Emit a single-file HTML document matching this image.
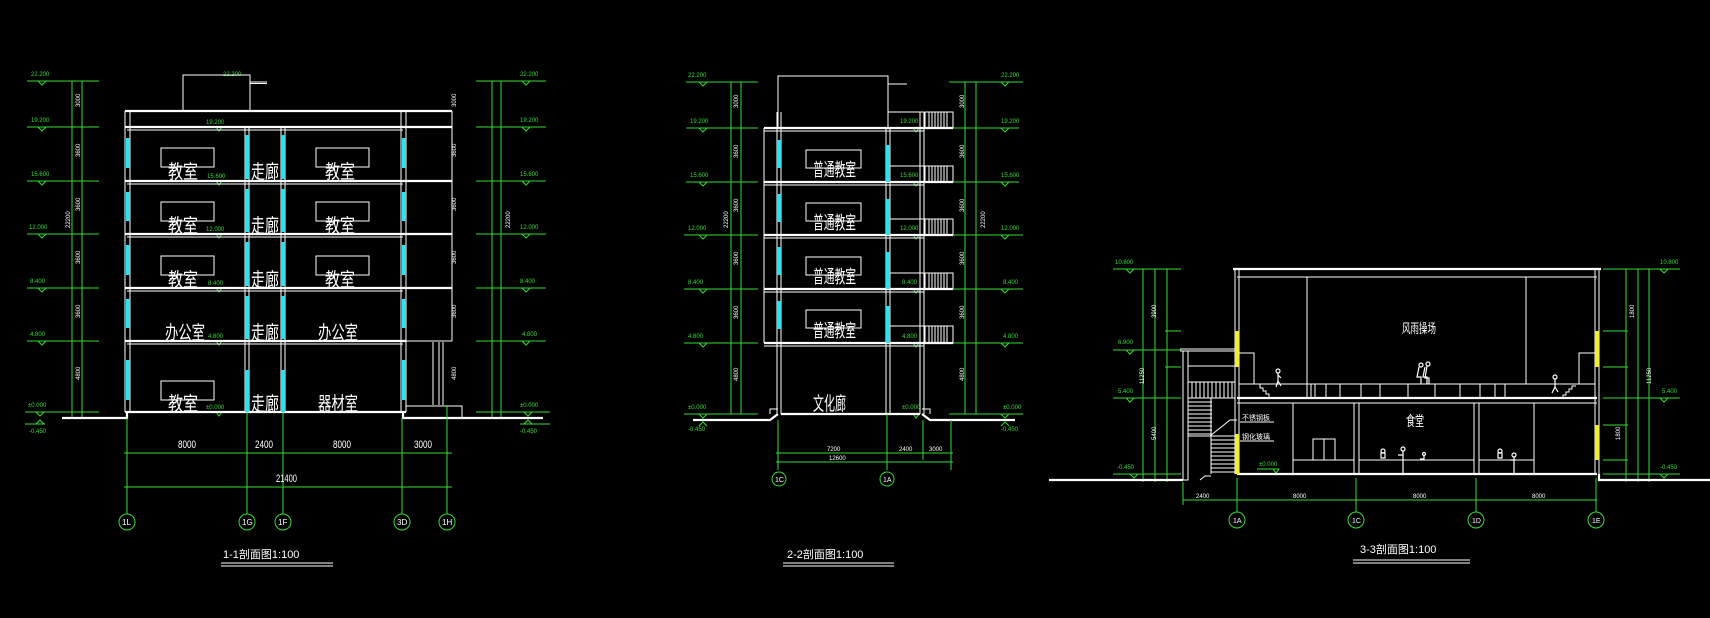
<!DOCTYPE html>
<html><head><meta charset="utf-8"><style>
html,body{margin:0;padding:0;background:#000;}
svg{display:block}
.w{stroke:#fff;fill:none;stroke-width:1}
.w2{stroke:#fff;fill:none;stroke-width:2.2}
.g{stroke:#33dd33;fill:none;stroke-width:1}
.c{fill:#2fe0f0}
.y{fill:#f0f030}
.t{fill:#fff;font-family:"Liberation Sans","Noto Sans CJK SC",sans-serif;}
.gt{fill:#33dd33;font-family:"Liberation Sans",sans-serif;font-size:6px}
.wt{fill:#fff;font-family:"Liberation Sans",sans-serif;font-size:6px}
</style></head><body>
<svg width="1710" height="618" viewBox="0 0 1710 618" xmlns="http://www.w3.org/2000/svg">
<rect width="1710" height="618" fill="#000"/>

<!-- ================= SECTION 1-1 ================= -->
<g class="g">
<line x1="72" y1="81" x2="72" y2="418"/><line x1="82" y1="81" x2="82" y2="418"/>
<line x1="27" y1="81" x2="99" y2="81"/><line x1="27" y1="127" x2="99" y2="127"/>
<line x1="27" y1="181" x2="99" y2="181"/><line x1="27" y1="234" x2="99" y2="234"/>
<line x1="27" y1="288" x2="99" y2="288"/><line x1="27" y1="341" x2="99" y2="341"/>
<line x1="25" y1="412" x2="99" y2="412"/><line x1="25" y1="424" x2="45" y2="424"/>
<path d="M38 81 l4 4 l4 -4 M38 127 l4 4 l4 -4 M38 181 l4 4 l4 -4 M38 234 l4 4 l4 -4 M38 288 l4 4 l4 -4 M38 341 l4 4 l4 -4 M36 412 l4 4 l4 -4 M36 424 l4 -4 l4 4"/>
<line x1="476" y1="81" x2="546" y2="81"/><line x1="476" y1="127" x2="546" y2="127"/>
<line x1="476" y1="181" x2="546" y2="181"/><line x1="476" y1="234" x2="546" y2="234"/>
<line x1="476" y1="288" x2="546" y2="288"/><line x1="476" y1="341" x2="546" y2="341"/>
<line x1="476" y1="412" x2="550" y2="412"/><line x1="520" y1="424" x2="550" y2="424"/>
<line x1="492" y1="81" x2="492" y2="418"/><line x1="501" y1="81" x2="501" y2="418"/>
<path d="M522 81 l4 4 l4 -4 M522 127 l4 4 l4 -4 M522 181 l4 4 l4 -4 M522 234 l4 4 l4 -4 M522 288 l4 4 l4 -4 M522 341 l4 4 l4 -4 M524 412 l4 4 l4 -4 M524 424 l4 -4 l4 4"/>
<path d="M204 127 h18 l-3 4 l-3 -4 M204 181 h18 l-3 4 l-3 -4 M204 234 h18 l-3 4 l-3 -4 M204 288 h18 l-3 4 l-3 -4 M204 341 h18 l-3 4 l-3 -4 M204 412 h18 l-3 4 l-3 -4"/>
</g>
<g class="gt">
<text x="31" y="76">22.200</text><text x="31" y="122">19.200</text><text x="31" y="176">15.600</text><text x="29" y="229">12.000</text><text x="30" y="283">8.400</text><text x="30" y="336">4.800</text><text x="28" y="407">±0.000</text><text x="29" y="433">-0.450</text>
<text x="520" y="76">22.200</text><text x="520" y="122">19.200</text><text x="520" y="176">15.600</text><text x="520" y="229">12.000</text><text x="520" y="283">8.400</text><text x="522" y="336">4.800</text><text x="520" y="407">±0.000</text><text x="520" y="433">-0.450</text>
<text x="223" y="76">22.200</text><text x="206" y="124">19.200</text><text x="207" y="178">15.600</text><text x="206" y="231">12.000</text><text x="208" y="285">8.400</text><text x="208" y="338">4.800</text><text x="206" y="409">±0.000</text>
</g>
<g class="wt">
<text x="74" y="107" transform="rotate(-90 77 104)">3000</text>
<text x="74" y="157" transform="rotate(-90 77 154)">3600</text>
<text x="74" y="211" transform="rotate(-90 77 208)">3600</text>
<text x="64" y="228" transform="rotate(-90 67 225)">22200</text>
<text x="74" y="264" transform="rotate(-90 77 261)">3600</text>
<text x="74" y="318" transform="rotate(-90 77 315)">3600</text>
<text x="74" y="380" transform="rotate(-90 77 377)">4800</text>
<text x="450" y="107" transform="rotate(-90 453 104)">3000</text>
<text x="450" y="157" transform="rotate(-90 453 154)">3600</text>
<text x="450" y="211" transform="rotate(-90 453 208)">3600</text>
<text x="504" y="228" transform="rotate(-90 507 225)">22200</text>
<text x="450" y="264" transform="rotate(-90 453 261)">3600</text>
<text x="450" y="318" transform="rotate(-90 453 315)">3600</text>
<text x="450" y="380" transform="rotate(-90 453 377)">4800</text>
</g>
<g class="w">
<rect x="183" y="75" width="67" height="36"/>
<line x1="250" y1="82" x2="267" y2="82"/><line x1="250" y1="83.5" x2="267" y2="83.5"/>
<line x1="125" y1="111" x2="125" y2="412"/><line x1="130" y1="111" x2="130" y2="412"/>
<line x1="401" y1="111" x2="401" y2="412"/><line x1="406" y1="111" x2="406" y2="412"/>
<line x1="452" y1="111" x2="452" y2="341"/>
<line x1="245" y1="127" x2="245" y2="412"/><line x1="249" y1="127" x2="249" y2="412"/>
<line x1="281" y1="127" x2="281" y2="412"/><line x1="285" y1="127" x2="285" y2="412"/>
<line x1="127" y1="130" x2="403" y2="130"/><line x1="127" y1="184" x2="403" y2="184"/><line x1="127" y1="237" x2="403" y2="237"/><line x1="127" y1="291" x2="403" y2="291"/><line x1="127" y1="344" x2="403" y2="344"/>
<line x1="406" y1="127" x2="452" y2="127"/><line x1="406" y1="181" x2="452" y2="181"/><line x1="406" y1="234" x2="452" y2="234"/><line x1="406" y1="288" x2="452" y2="288"/><line x1="406" y1="341" x2="452" y2="341"/>
<line x1="433" y1="342" x2="433" y2="405"/><line x1="439" y1="342" x2="439" y2="405"/><line x1="443" y1="342" x2="443" y2="405"/>
<polyline points="406,406 462,406 462,418"/>
<rect x="161" y="148" width="53" height="19"/><rect x="316" y="148" width="53" height="19"/>
<rect x="161" y="202" width="53" height="19"/><rect x="316" y="202" width="53" height="19"/>
<rect x="161" y="256" width="53" height="19"/><rect x="316" y="256" width="53" height="19"/>
<rect x="161" y="381" width="53" height="19"/>
</g>
<g class="w2">
<line x1="125" y1="111" x2="452" y2="111"/>
<line x1="125" y1="127" x2="452" y2="127"/><line x1="125" y1="181" x2="452" y2="181"/><line x1="125" y1="234" x2="452" y2="234"/><line x1="125" y1="288" x2="452" y2="288"/><line x1="125" y1="341" x2="406" y2="341"/>
<line x1="125" y1="412" x2="406" y2="412"/>
<polyline points="62,418 127,418 127,412"/><polyline points="403,412 403,418 543,418"/>
</g>
<g class="c">
<rect x="126" y="138" width="4" height="30"/><rect x="126" y="192" width="4" height="29"/><rect x="126" y="245" width="4" height="30"/><rect x="126" y="299" width="4" height="29"/><rect x="126" y="360" width="4" height="40"/>
<rect x="402" y="138" width="4" height="30"/><rect x="402" y="192" width="4" height="29"/><rect x="402" y="245" width="4" height="30"/><rect x="402" y="299" width="4" height="29"/><rect x="402" y="360" width="4" height="40"/>
<rect x="245" y="135" width="4" height="44"/><rect x="245" y="189" width="4" height="43"/><rect x="245" y="242" width="4" height="44"/><rect x="245" y="296" width="4" height="43"/><rect x="245" y="370" width="4" height="42"/>
<rect x="281" y="135" width="4" height="44"/><rect x="281" y="189" width="4" height="43"/><rect x="281" y="242" width="4" height="44"/><rect x="281" y="296" width="4" height="43"/><rect x="281" y="370" width="4" height="42"/>
</g>
<g class="t" font-size="19" lengthAdjust="spacingAndGlyphs">
<text x="168" y="178" textLength="30" lengthAdjust="spacingAndGlyphs">教室</text><text x="251" y="178" textLength="28" lengthAdjust="spacingAndGlyphs">走廊</text><text x="325" y="178" textLength="30" lengthAdjust="spacingAndGlyphs">教室</text>
<text x="168" y="232" textLength="30" lengthAdjust="spacingAndGlyphs">教室</text><text x="251" y="232" textLength="28" lengthAdjust="spacingAndGlyphs">走廊</text><text x="325" y="232" textLength="30" lengthAdjust="spacingAndGlyphs">教室</text>
<text x="168" y="286" textLength="30" lengthAdjust="spacingAndGlyphs">教室</text><text x="251" y="286" textLength="28" lengthAdjust="spacingAndGlyphs">走廊</text><text x="325" y="286" textLength="30" lengthAdjust="spacingAndGlyphs">教室</text>
<text x="165" y="339" textLength="40" lengthAdjust="spacingAndGlyphs">办公室</text><text x="251" y="339" textLength="28" lengthAdjust="spacingAndGlyphs">走廊</text><text x="318" y="339" textLength="40" lengthAdjust="spacingAndGlyphs">办公室</text>
<text x="168" y="410" textLength="30" lengthAdjust="spacingAndGlyphs">教室</text><text x="251" y="410" textLength="28" lengthAdjust="spacingAndGlyphs">走廊</text><text x="318" y="410" textLength="40" lengthAdjust="spacingAndGlyphs">器材室</text>
</g>
<g class="g">
<line x1="124" y1="453" x2="452" y2="453"/><line x1="124" y1="487" x2="452" y2="487"/>
<line x1="127" y1="418" x2="127" y2="514"/><line x1="247" y1="412" x2="247" y2="514"/><line x1="283" y1="412" x2="283" y2="514"/><line x1="402" y1="418" x2="402" y2="514"/><line x1="447" y1="406" x2="447" y2="514"/>
<circle cx="127" cy="522" r="8"/><circle cx="247" cy="522" r="8"/><circle cx="283" cy="522" r="8"/><circle cx="402" cy="522" r="8"/><circle cx="447" cy="522" r="8"/>
</g>
<g class="t" font-size="11">
<text x="178" y="448" textLength="18" lengthAdjust="spacingAndGlyphs">8000</text><text x="255" y="448" textLength="18" lengthAdjust="spacingAndGlyphs">2400</text><text x="333" y="448" textLength="18" lengthAdjust="spacingAndGlyphs">8000</text><text x="414" y="448" textLength="18" lengthAdjust="spacingAndGlyphs">3000</text>
<text x="276" y="482" textLength="21" lengthAdjust="spacingAndGlyphs">21400</text>
</g>
<g class="t" font-size="8"><text x="122" y="525">1L</text><text x="242" y="525">1G</text><text x="278" y="525">1F</text><text x="397" y="525">3D</text><text x="442" y="525">1H</text></g>
<text class="t" x="223" y="558" font-size="11">1-1剖面图1:100</text>
<line x1="221" y1="563" x2="333" y2="563" stroke="#fff"/><line x1="221" y1="566" x2="333" y2="566" stroke="#fff"/>

<!-- ================= SECTION 2-2 ================= -->
<g class="g">
<line x1="731" y1="82" x2="731" y2="414"/><line x1="741" y1="82" x2="741" y2="414"/>
<line x1="686" y1="82" x2="758" y2="82"/><line x1="686" y1="128" x2="758" y2="128"/><line x1="686" y1="182" x2="758" y2="182"/><line x1="684" y1="235" x2="758" y2="235"/><line x1="684" y1="289" x2="758" y2="289"/><line x1="684" y1="343" x2="758" y2="343"/><line x1="684" y1="414" x2="758" y2="414"/>
<path d="M699 82 l4 4 l4 -4 M699 128 l4 4 l4 -4 M699 182 l4 4 l4 -4 M699 235 l4 4 l4 -4 M699 289 l4 4 l4 -4 M699 343 l4 4 l4 -4 M699 414 l4 4 l4 -4 M699 426 l4 -4 l4 4"/>
<line x1="949" y1="82" x2="1023" y2="82"/><line x1="949" y1="128" x2="1019" y2="128"/><line x1="949" y1="182" x2="1019" y2="182"/><line x1="949" y1="235" x2="1023" y2="235"/><line x1="949" y1="289" x2="1023" y2="289"/><line x1="949" y1="343" x2="1023" y2="343"/><line x1="949" y1="414" x2="1023" y2="414"/>
<line x1="965" y1="82" x2="965" y2="414"/><line x1="976" y1="82" x2="976" y2="414"/>
<path d="M1001 82 l4 4 l4 -4 M1001 128 l4 4 l4 -4 M1001 182 l4 4 l4 -4 M1001 235 l4 4 l4 -4 M1001 289 l4 4 l4 -4 M1001 343 l4 4 l4 -4 M1001 414 l4 4 l4 -4 M1001 426 l4 -4 l4 4"/>
<path d="M899 128 h20 l-3 4 l-3 -4 M899 182 h20 l-3 4 l-3 -4 M899 235 h20 l-3 4 l-3 -4 M899 289 h20 l-3 4 l-3 -4 M899 343 h20 l-3 4 l-3 -4 M899 414 h20 l-3 4 l-3 -4"/>
</g>
<g class="gt">
<text x="688" y="77">22.200</text><text x="690" y="123">19.200</text><text x="690" y="177">15.600</text><text x="688" y="230">12.000</text><text x="688" y="284">8.400</text><text x="688" y="338">4.800</text><text x="688" y="409">±0.000</text><text x="688" y="431">-0.450</text>
<text x="1001" y="77">22.200</text><text x="1001" y="123">19.200</text><text x="1001" y="177">15.600</text><text x="1001" y="230">12.000</text><text x="1003" y="284">8.400</text><text x="1003" y="338">4.800</text><text x="1003" y="409">±0.000</text><text x="1001" y="431">-0.450</text>
<text x="900" y="123">19.200</text><text x="900" y="177">15.600</text><text x="900" y="230">12.000</text><text x="902" y="284">8.400</text><text x="902" y="338">4.800</text><text x="902" y="409">±0.000</text>
</g>
<g class="wt">
<text x="732" y="108" transform="rotate(-90 735 105)">3000</text><text x="732" y="158" transform="rotate(-90 735 155)">3600</text><text x="732" y="212" transform="rotate(-90 735 209)">3600</text><text x="722" y="228" transform="rotate(-90 725 225)">22200</text><text x="732" y="265" transform="rotate(-90 735 262)">3600</text><text x="732" y="319" transform="rotate(-90 735 316)">3600</text><text x="732" y="381" transform="rotate(-90 735 378)">4800</text>
<text x="958" y="108" transform="rotate(-90 961 105)">3000</text><text x="958" y="158" transform="rotate(-90 961 155)">3600</text><text x="958" y="212" transform="rotate(-90 961 209)">3600</text><text x="979" y="228" transform="rotate(-90 982 225)">22200</text><text x="958" y="265" transform="rotate(-90 961 262)">3600</text><text x="958" y="319" transform="rotate(-90 961 316)">3600</text><text x="958" y="381" transform="rotate(-90 961 378)">4800</text>
</g>
<g class="w">
<rect x="778" y="76" width="110" height="52"/>
<line x1="888" y1="84" x2="907" y2="84"/>
<line x1="764" y1="128" x2="764" y2="343"/>
<line x1="777" y1="112" x2="777" y2="414"/><line x1="781" y1="112" x2="781" y2="414"/>
<line x1="886" y1="128" x2="886" y2="414"/><line x1="890" y1="128" x2="890" y2="414"/>
<line x1="920" y1="112" x2="920" y2="414"/><line x1="924" y1="112" x2="924" y2="414"/>
<line x1="764" y1="131" x2="924" y2="131"/><line x1="764" y1="185" x2="924" y2="185"/><line x1="764" y1="238" x2="924" y2="238"/><line x1="764" y1="292" x2="924" y2="292"/><line x1="764" y1="346" x2="924" y2="346"/>
<line x1="888" y1="112" x2="924" y2="112"/><line x1="888" y1="166" x2="924" y2="166"/><line x1="888" y1="219" x2="924" y2="219"/><line x1="888" y1="273" x2="924" y2="273"/><line x1="888" y1="326" x2="924" y2="326"/>
<rect x="806" y="150" width="55" height="18"/><rect x="806" y="203" width="55" height="18"/><rect x="806" y="257" width="55" height="18"/><rect x="806" y="310" width="55" height="18"/>
<polyline points="770,414 770,409 778,409"/><polyline points="922,409 930,409 930,414"/>
</g>
<g class="w">
<rect x="925" y="112" width="28" height="16"/><rect x="925" y="166" width="28" height="16"/><rect x="925" y="219" width="28" height="16"/><rect x="925" y="273" width="28" height="16"/><rect x="925" y="326" width="28" height="17"/>
<path d="M929 112v16M932 112v16M935 112v16M938 112v16M941 112v16M944 112v16M947 112v16
M929 166v16M932 166v16M935 166v16M938 166v16M941 166v16M944 166v16M947 166v16
M929 219v16M932 219v16M935 219v16M938 219v16M941 219v16M944 219v16M947 219v16
M929 273v16M932 273v16M935 273v16M938 273v16M941 273v16M944 273v16M947 273v16
M929 326v17M932 326v17M935 326v17M938 326v17M941 326v17M944 326v17M947 326v17"/>
</g>
<g class="w2">
<line x1="764" y1="128" x2="953" y2="128"/><line x1="764" y1="182" x2="953" y2="182"/><line x1="764" y1="235" x2="953" y2="235"/><line x1="764" y1="289" x2="953" y2="289"/><line x1="764" y1="343" x2="953" y2="343"/>
<line x1="781" y1="414" x2="920" y2="414"/>
<polyline points="693,420 770,420 778,414"/><polyline points="922,414 930,420 1015,420"/>
</g>
<g class="c">
<rect x="777" y="140" width="4" height="28"/><rect x="777" y="194" width="4" height="28"/><rect x="777" y="247" width="4" height="28"/><rect x="777" y="301" width="4" height="28"/>
<rect x="886" y="145" width="4" height="37"/><rect x="886" y="199" width="4" height="36"/><rect x="886" y="252" width="4" height="37"/><rect x="886" y="306" width="4" height="37"/>
</g>
<g class="t" font-size="18">
<text x="813" y="176" textLength="43" lengthAdjust="spacingAndGlyphs">普通教室</text><text x="813" y="229" textLength="43" lengthAdjust="spacingAndGlyphs">普通教室</text><text x="813" y="283" textLength="43" lengthAdjust="spacingAndGlyphs">普通教室</text><text x="813" y="337" textLength="43" lengthAdjust="spacingAndGlyphs">普通教室</text>
<text x="813" y="410" font-size="19" textLength="33" lengthAdjust="spacingAndGlyphs">文化廊</text>
</g>
<g class="g">
<line x1="778" y1="420" x2="778" y2="470"/><line x1="887" y1="414" x2="887" y2="470"/><line x1="923" y1="420" x2="923" y2="460"/><line x1="951" y1="420" x2="951" y2="470"/>
<line x1="776" y1="453" x2="953" y2="453"/><line x1="776" y1="462" x2="953" y2="462"/>
<circle cx="779" cy="479" r="7"/><circle cx="887" cy="479" r="7"/>
</g>
<g class="wt"><text x="827" y="451">7200</text><text x="899" y="451">2400</text><text x="929" y="451">3000</text><text x="829" y="460">12600</text></g>
<g class="t" font-size="7"><text x="775" y="482">1C</text><text x="883" y="482">1A</text></g>
<text class="t" x="787" y="558" font-size="11">2-2剖面图1:100</text>
<line x1="783" y1="563" x2="894" y2="563" stroke="#fff"/><line x1="783" y1="566" x2="894" y2="566" stroke="#fff"/>

<!-- ================= SECTION 3-3 ================= -->
<g class="g">
<line x1="1113" y1="269" x2="1181" y2="269"/><line x1="1113" y1="350" x2="1181" y2="350"/><line x1="1113" y1="398" x2="1181" y2="398"/><line x1="1113" y1="474" x2="1181" y2="474"/>
<line x1="1165" y1="331" x2="1181" y2="331"/><line x1="1165" y1="367" x2="1181" y2="367"/>
<line x1="1143" y1="269" x2="1143" y2="482"/><line x1="1155" y1="269" x2="1155" y2="482"/><line x1="1167" y1="269" x2="1167" y2="482"/>
<path d="M1126 269 l4 4 l4 -4 M1126 350 l4 4 l4 -4 M1126 398 l4 4 l4 -4 M1130 474 l4 4 l4 -4"/>
<line x1="1603" y1="269" x2="1680" y2="269"/><line x1="1603" y1="398" x2="1680" y2="398"/><line x1="1603" y1="474" x2="1680" y2="474"/>
<line x1="1603" y1="331" x2="1628" y2="331"/><line x1="1603" y1="367" x2="1628" y2="367"/><line x1="1603" y1="425" x2="1628" y2="425"/><line x1="1603" y1="460" x2="1628" y2="460"/>
<line x1="1626" y1="269" x2="1626" y2="482"/><line x1="1638" y1="269" x2="1638" y2="482"/><line x1="1649" y1="269" x2="1649" y2="482"/>
<path d="M1660 269 l4 4 l4 -4 M1660 398 l4 4 l4 -4 M1660 474 l4 4 l4 -4"/>
<path d="M1257 469 h22 l-3 4 l-3 -4"/>
<line x1="1183" y1="500" x2="1597" y2="500"/>
<line x1="1183" y1="482" x2="1183" y2="505"/><line x1="1237" y1="478" x2="1237" y2="512"/><line x1="1356" y1="478" x2="1356" y2="512"/><line x1="1476" y1="478" x2="1476" y2="512"/><line x1="1596" y1="478" x2="1596" y2="512"/>
<circle cx="1237" cy="520" r="8"/><circle cx="1356" cy="520" r="8"/><circle cx="1476" cy="520" r="8"/><circle cx="1596" cy="520" r="8"/>
</g>
<g class="gt">
<text x="1115" y="264">10.800</text><text x="1118" y="344">6.900</text><text x="1118" y="393">5.400</text><text x="1117" y="469">-0.450</text>
<text x="1660" y="264">10.800</text><text x="1662" y="393">5.400</text><text x="1660" y="469">-0.450</text><text x="1259" y="466">±0.000</text>
</g>
<g class="wt">
<text x="1150" y="318" transform="rotate(-90 1153 315)">3900</text><text x="1138" y="384" transform="rotate(-90 1141 381)">11250</text><text x="1150" y="440" transform="rotate(-90 1153 437)">5400</text>
<text x="1628" y="318" transform="rotate(-90 1631 315)">1800</text><text x="1645" y="384" transform="rotate(-90 1648 381)">11250</text><text x="1614" y="440" transform="rotate(-90 1617 437)">1800</text>
<text x="1196" y="498">2400</text><text x="1293" y="498">8000</text><text x="1413" y="498">8000</text><text x="1532" y="498">8000</text>
</g>
<g class="t" font-size="7"><text x="1233" y="523">1A</text><text x="1352" y="523">1C</text><text x="1472" y="523">1D</text><text x="1592" y="523">1E</text></g>
<g class="w">
<line x1="1235" y1="269" x2="1235" y2="474"/><line x1="1239" y1="269" x2="1239" y2="474"/>
<line x1="1595" y1="269" x2="1595" y2="474"/><line x1="1599" y1="269" x2="1599" y2="474"/>
<line x1="1237" y1="277" x2="1597" y2="277"/>
<line x1="1307" y1="277" x2="1307" y2="384"/><line x1="1526" y1="277" x2="1526" y2="384"/>
<polyline points="1239,353 1254,353 1254,384"/><polyline points="1595,353 1579,353 1579,384"/>
<line x1="1239" y1="384" x2="1595" y2="384"/>
<path d="M1307 384v14M1311 384v14M1315 384v14M1326 384v14M1340 384v14M1361 384v14M1380 384v14M1408 384v14M1435 384v14M1460 384v14M1480 384v14M1495 384v14M1505 384v14"/>
<path d="M1260 384 l0 4 l3 0 l0 3 l3 0 l0 3 l3 0 l0 3 M1563 398 l0 -3 l3 0 l0 -3 l3 0 l0 -3 l3 0 l0 -3 l4 0"/>
<line x1="1237" y1="403" x2="1597" y2="403"/>
<rect x="1354" y="403" width="5" height="71"/><rect x="1474" y="403" width="5" height="71"/>
<line x1="1293" y1="403" x2="1293" y2="474"/><line x1="1534" y1="403" x2="1534" y2="474"/>
<line x1="1293" y1="460" x2="1354" y2="460"/><line x1="1359" y1="460" x2="1474" y2="460"/><line x1="1479" y1="460" x2="1534" y2="460"/>
<rect x="1313" y="439" width="22" height="21"/><line x1="1324" y1="439" x2="1324" y2="460"/>
<line x1="1240" y1="422" x2="1274" y2="422"/><line x1="1240" y1="441" x2="1274" y2="441"/>
<rect x="1183" y="351" width="5" height="129"/>
<line x1="1180" y1="351" x2="1237" y2="351"/><line x1="1180" y1="349" x2="1237" y2="349"/>
<rect x="1188" y="382" width="47" height="16"/>
<path d="M1192 382v16M1196 382v16M1200 382v16M1204 382v16M1208 382v16M1212 382v16M1216 382v16M1220 382v16M1224 382v16M1228 382v16M1232 382v16"/>
<line x1="1188" y1="366" x2="1235" y2="366"/>
<path d="M1188 402h24M1188 406h24M1188 410h24M1188 414h24M1188 418h24M1188 422h24M1188 426h24M1188 430h24M1188 434h24
M1211 440h24M1211 444h24M1211 448h24M1211 452h24M1211 456h24M1211 460h24M1211 464h24M1211 468h24M1211 472h24"/>
<line x1="1211" y1="398" x2="1211" y2="474"/><line x1="1188" y1="436" x2="1235" y2="436"/>
<polyline points="1210,436 1230,420 1237,420"/>
<polyline points="1200,480 1205,476 1211,476"/>
</g>
<g class="w2">
<line x1="1233" y1="269" x2="1601" y2="269"/>
<line x1="1237" y1="398" x2="1597" y2="398"/>
<line x1="1237" y1="474" x2="1597" y2="474"/>
<polyline points="1049,480 1183,480"/><polyline points="1599,474 1599,480 1710,480"/>
</g>
<g class="y">
<rect x="1235" y="331" width="4" height="36"/><rect x="1235" y="434" width="4" height="40"/>
<rect x="1595" y="331" width="4" height="36"/><rect x="1595" y="425" width="4" height="35"/>
</g>
<g fill="none" stroke="#fff" stroke-width="1.2">
<circle cx="1278" cy="371" r="2"/><path d="M1278 373 v8 l-2 6 M1278 381 l3 5 M1278 375 l3 3"/>
<circle cx="1421" cy="365" r="2"/><path d="M1419 367 l-2 10 l4 0 l0 7 M1425 367 l-2 10 l4 0 l0 7"/><circle cx="1428" cy="364" r="2"/><path d="M1427 366 l-2 12 l4 0 l0 6"/>
<circle cx="1555" cy="377" r="2"/><path d="M1555 379 v8 l-3 6 M1555 387 l3 5"/>
<circle cx="1383" cy="451" r="2"/><path d="M1381 453 h4 v5 h-4z"/>
<circle cx="1403" cy="449" r="2"/><path d="M1403 451 v23 M1403 455 l-5 0"/>
<circle cx="1424" cy="454" r="1.5"/><path d="M1424 456 v3 h-4"/>
<circle cx="1500" cy="451" r="2"/><path d="M1498 453 h4 v5 h-4z"/>
<circle cx="1514" cy="455" r="2"/><path d="M1514 457 v17 M1514 460 l-4 0"/>
</g>
<g class="t">
<text x="1402" y="333" font-size="13" textLength="34" lengthAdjust="spacingAndGlyphs">风雨操场</text>
<text x="1406" y="426" font-size="14" textLength="18" lengthAdjust="spacingAndGlyphs">食堂</text>
<text x="1242" y="420" font-size="7">不锈钢板</text>
<text x="1242" y="439" font-size="7">钢化玻璃</text>
</g>
<text class="t" x="1360" y="553" font-size="11">3-3剖面图1:100</text>
<line x1="1353" y1="560" x2="1470" y2="560" stroke="#fff"/><line x1="1353" y1="563" x2="1470" y2="563" stroke="#fff"/>
</svg>
</body></html>
